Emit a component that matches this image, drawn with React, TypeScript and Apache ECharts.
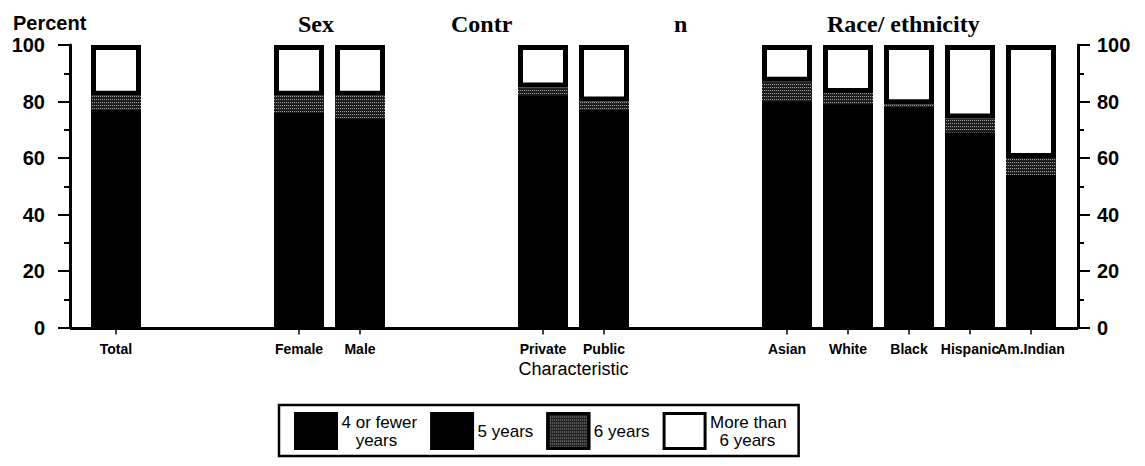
import React, { useEffect, useRef } from "react";
import * as echarts from "echarts";

// Categories ("" = empty slot between groups)
const categories = ["Total", "", "", "Female", "Male", "", "", "Private", "Public", "", "", "Asian", "White", "Black", "Hispanic", "Am.Indian"];
const fourOrFewer = [44, null, null, 47, 40, null, null, 55, 40, null, null, 45, 45, 38, 34, 30];
const fiveYears = [33, null, null, 29, 34, null, null, 27, 37, null, null, 35, 34, 40, 35, 24];
const sixYears = [5, null, null, 6, 8, null, null, 3, 3, null, null, 7, 4, 1, 5, 6];
const moreThanSix = [18, null, null, 18, 18, null, null, 15, 20, null, null, 13, 17, 21, 26, 40];

const seriesNames = ["4 or fewer years", "5 years", "6 years", "More than 6 years"];
const legendLabels: Record<string, string> = {
  "4 or fewer years": "4 or fewer\n   years",
  "5 years": "5 years",
  "6 years": "6 years",
  "More than 6 years": "More than\n  6 years",
};
const yMin = 0;
const yMax = 100;
const yInterval = 20;
const axisTitle = "Percent";
const xAxisTitle = "Characteristic";
const groupTitles = [
  { text: "Sex", left: 293 },
  { text: "Contr", left: 446 },
  { text: "n", left: 669 },
  { text: "Race/ ethnicity", left: 822 },
];

const SANS = "'Liberation Sans', Arial, Helvetica, sans-serif";
const SERIF = "'Liberation Serif', 'Times New Roman', serif";

export default function App() {
  const ref = useRef<HTMLDivElement>(null);
  useEffect(() => {
    if (!ref.current) return;
    const chart = echarts.init(ref.current, null, { renderer: "svg" });

    const yAxisCommon = {
      type: "value" as const,
      min: yMin,
      max: yMax,
      interval: yInterval,
      splitLine: { show: false },
      axisLine: { show: true, lineStyle: { color: "#000", width: 3 } },
      axisTick: { show: true, length: 12, lineStyle: { color: "#000", width: 2 } },
      minorTick: { show: true, splitNumber: 2, length: 6, lineStyle: { color: "#000", width: 2 } },
      minorSplitLine: { show: false },
    };

    const barW = 50;
    const seamCover = { shadowColor: "#000", shadowBlur: 0, shadowOffsetY: 2 };

    const option: any = {
      animation: false,
      backgroundColor: "#fff",
      title: [
        {
          text: axisTitle,
          left: 8,
          top: 8,
          textStyle: { fontFamily: SANS, fontSize: 20, fontWeight: "bold", color: "#000" },
        },
        ...groupTitles.map((g) => ({
          text: g.text,
          left: g.left,
          top: 7,
          textStyle: { fontFamily: SERIF, fontSize: 24, fontWeight: "bold", color: "#000" },
        })),
      ],
      grid: { left: 85.5, right: 83.5, top: 45, bottom: 138.5, containLabel: false },
      xAxis: {
        type: "category",
        data: categories,
        name: xAxisTitle,
        nameLocation: "middle",
        nameGap: 31,
        nameTextStyle: { fontFamily: SANS, fontSize: 18, color: "#000" },
        axisLine: { show: false },
        axisTick: {
          show: true,
          alignWithLabel: true,
          length: 7,
          interval: (_i: number, v: string) => v !== "",
          lineStyle: { color: "#000", width: 1.5 },
        },
        axisLabel: {
          interval: 0,
          margin: 14,
          fontFamily: SANS,
          fontSize: 14,
          fontWeight: "bold",
          color: "#000",
        },
      },
      yAxis: [
        {
          ...yAxisCommon,
          position: "left",
          offset: 15.5,
          axisLabel: { margin: 25, fontFamily: SANS, fontSize: 20, fontWeight: "bold", color: "#000" },
        },
        {
          ...yAxisCommon,
          position: "right",
          offset: 16.5,
          axisLabel: { margin: 19, fontFamily: SANS, fontSize: 20, fontWeight: "bold", color: "#000" },
        },
      ],
      legend: {
        data: seriesNames,
        left: 279,
        top: 405,
        orient: "horizontal",
        icon: "rect",
        itemWidth: 41,
        itemHeight: 35,
        itemGap: 13,
        padding: [7, 12, 6, 15],
        borderColor: "#000",
        borderWidth: 2.5,
        selectedMode: false,
        formatter: (n: string) => legendLabels[n] ?? n,
        itemStyle: { borderWidth: 3 },
        textStyle: { fontFamily: SANS, fontSize: 17, lineHeight: 18, color: "#000" },
      },
      graphic: [
        {
          type: "line",
          shape: { x1: 70, y1: 328.5, x2: 1078, y2: 328.5 },
          style: { stroke: "#000", lineWidth: 3 },
          silent: true,
        },
      ],
      series: [
        {
          name: seriesNames[0],
          type: "bar",
          stack: "total",
          barWidth: barW,
          data: fourOrFewer,
          itemStyle: { color: "#000", borderColor: "#000", borderWidth: 0 },
          silent: true,
        },
        {
          name: seriesNames[1],
          type: "bar",
          stack: "total",
          barWidth: barW,
          data: fiveYears,
          itemStyle: { color: "#000", borderColor: "#000", borderWidth: 0, ...seamCover },
          silent: true,
        },
        {
          name: seriesNames[2],
          type: "bar",
          stack: "total",
          barWidth: barW,
          data: sixYears,
          itemStyle: {
            color: "#222",
            borderColor: "#000",
            borderWidth: 0,
            ...seamCover,
            decal: {
              symbol: "rect",
              symbolSize: 1,
              color: "rgba(255,255,255,0.55)",
              dashArrayX: [1, 1],
              dashArrayY: [1, 2],
            },
          },
          silent: true,
        },
        {
          name: seriesNames[3],
          type: "bar",
          stack: "total",
          barWidth: barW,
          data: moreThanSix,
          itemStyle: { color: "#fff", borderColor: "#000", borderWidth: 5 },
          silent: true,
        },
      ],
    };

    chart.setOption(option);
    return () => chart.dispose();
  }, []);

  return <div ref={ref} style={{ width: 1145, height: 466, margin: -8 }} />;
}
